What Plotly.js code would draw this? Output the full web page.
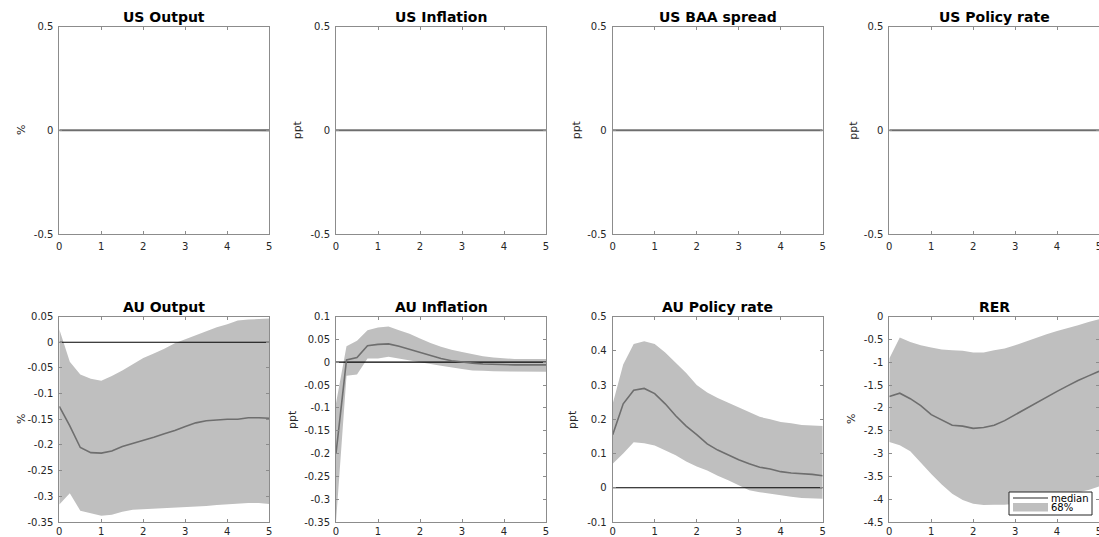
<!DOCTYPE html>
<html>
<head>
<meta charset="utf-8">
<script src="https://cdn.plot.ly/plotly-3.0.1.min.js"></script>
<style>html,body{margin:0;padding:0;background:#fff;}#chart{width:1099px;height:537px;}</style>
</head>
<body>
<div id="chart"></div>
<script>
// Horizon in years (quarterly steps)
const horizon = [0,0.25,0.5,0.75,1,1.25,1.5,1.75,2,2.25,2.5,2.75,3,3.25,3.5,3.75,4,4.25,4.5,4.75,5];

const panelTitles = ["US Output","US Inflation","US BAA spread","US Policy rate","AU Output","AU Inflation","AU Policy rate","RER"];
const unitLabels = ["%","ppt","ppt","ppt","%","ppt","ppt","%"];

// US variables: no response
const usOutputMedian = [0,0,0,0,0,0,0,0,0,0,0,0,0,0,0,0,0,0,0,0,0];
const usOutputUpper  = [0.001,0.001,0.001,0.001,0.001,0.001,0.001,0.001,0.001,0.001,0.002,0.002,0.002,0.002,0.003,0.003,0.003,0.004,0.004,0.004,0.005];
const usOutputLower  = [-0.001,-0.001,-0.001,-0.001,-0.001,-0.001,-0.001,-0.001,-0.001,-0.001,-0.002,-0.002,-0.002,-0.002,-0.003,-0.003,-0.003,-0.004,-0.004,-0.004,-0.005];
const usInflMedian = [0,0,0,0,0,0,0,0,0,0,0,0,0,0,0,0,0,0,0,0,0];
const usInflUpper  = [0,0,0,0,0,0,0,0,0,0,0,0,0,0,0,0,0,0,0,0,0];
const usInflLower  = [0,0,0,0,0,0,0,0,0,0,0,0,0,0,0,0,0,0,0,0,0];
const usBaaMedian = [0,0,0,0,0,0,0,0,0,0,0,0,0,0,0,0,0,0,0,0,0];
const usBaaUpper  = [0,0,0,0,0,0,0,0,0,0,0,0,0,0,0,0,0,0,0,0,0];
const usBaaLower  = [0,0,0,0,0,0,0,0,0,0,0,0,0,0,0,0,0,0,0,0,0];
const usRateMedian = [0,0,0,0,0,0,0,0,0,0,0,0,0,0,0,0,0,0,0,0,0];
const usRateUpper  = [0,0,0,0,0,0,0,0,0,0,0,0,0,0,0,0,0,0,0,0,0];
const usRateLower  = [0,0,0,0,0,0,0,0,0,0,0,0,0,0,0,0,0,0,0,0,0];

// AU Output
const auOutputMedian = [-0.125,-0.163,-0.205,-0.215,-0.216,-0.212,-0.203,-0.197,-0.192,-0.185,-0.178,-0.172,-0.164,-0.157,-0.153,-0.151,-0.150,-0.150,-0.147,-0.147,-0.148];
const auOutputUpper  = [0.025,-0.038,-0.063,-0.071,-0.075,-0.066,-0.055,-0.043,-0.031,-0.022,-0.013,-0.002,0.006,0.013,0.021,0.029,0.035,0.042,0.044,0.045,0.046];
const auOutputLower  = [-0.316,-0.294,-0.328,-0.333,-0.338,-0.336,-0.330,-0.326,-0.325,-0.323,-0.322,-0.321,-0.321,-0.320,-0.319,-0.317,-0.315,-0.314,-0.313,-0.313,-0.315];

// AU Inflation
const auInflMedian = [-0.20,0.005,0.010,0.036,0.039,0.040,0.035,0.028,0.021,0.014,0.008,0.003,0.000,-0.002,-0.004,-0.005,-0.006,-0.006,-0.006,-0.006,-0.006];
const auInflUpper  = [-0.09,0.035,0.047,0.070,0.076,0.078,0.070,0.062,0.052,0.042,0.034,0.027,0.022,0.017,0.013,0.010,0.008,0.007,0.007,0.007,0.007];
const auInflLower  = [-0.35,-0.030,-0.027,0.008,0.008,0.012,0.009,0.005,0.000,-0.004,-0.008,-0.012,-0.015,-0.018,-0.019,-0.020,-0.021,-0.021,-0.021,-0.021,-0.021];

// AU Policy rate
const auRateMedian = [0.155,0.245,0.285,0.290,0.275,0.245,0.210,0.180,0.155,0.128,0.110,0.095,0.082,0.070,0.060,0.055,0.047,0.043,0.042,0.039,0.035];
const auRateUpper  = [0.245,0.360,0.420,0.428,0.420,0.395,0.365,0.335,0.300,0.278,0.262,0.248,0.234,0.220,0.207,0.200,0.192,0.188,0.183,0.182,0.180];
const auRateLower  = [0.070,0.100,0.133,0.130,0.123,0.110,0.095,0.077,0.062,0.050,0.035,0.022,0.008,-0.007,-0.013,-0.017,-0.022,-0.026,-0.030,-0.031,-0.032];

// RER
const rerMedian = [-1.75,-1.68,-1.80,-1.95,-2.15,-2.27,-2.38,-2.40,-2.45,-2.43,-2.38,-2.28,-2.15,-2.03,-1.90,-1.77,-1.64,-1.52,-1.40,-1.30,-1.20];
const rerUpper  = [-0.92,-0.46,-0.56,-0.63,-0.68,-0.72,-0.74,-0.75,-0.79,-0.79,-0.74,-0.70,-0.63,-0.55,-0.46,-0.39,-0.32,-0.26,-0.19,-0.12,-0.06];
const rerLower  = [-2.75,-2.82,-2.95,-3.20,-3.45,-3.68,-3.88,-4.02,-4.10,-4.13,-4.12,-4.12,-4.10,-4.08,-4.05,-4.00,-3.95,-3.90,-3.85,-3.80,-3.72];

// Axis ticks
const xTickVals = [0,1,2,3,4,5];
const xTickText = ["0","1","2","3","4","5"];
const usTickVals = [-0.5,0,0.5];
const usTickText = ["-0.5","0","0.5"];
const auOutTickVals = [-0.35,-0.3,-0.25,-0.2,-0.15,-0.1,-0.05,0,0.05];
const auOutTickText = ["-0.35","-0.3","-0.25","-0.2","-0.15","-0.1","-0.05","0","0.05"];
const auInflTickVals = [-0.35,-0.3,-0.25,-0.2,-0.15,-0.1,-0.05,0,0.05,0.1];
const auInflTickText = ["-0.35","-0.3","-0.25","-0.2","-0.15","-0.1","-0.05","0","0.05","0.1"];
const auRateTickVals = [-0.1,0,0.1,0.2,0.3,0.4,0.5];
const auRateTickText = ["-0.1","0","0.1","0.2","0.3","0.4","0.5"];
const rerTickVals = [-4.5,-4,-3.5,-3,-2.5,-2,-1.5,-1,-0.5,0];
const rerTickText = ["-4.5","-4","-3.5","-3","-2.5","-2","-1.5","-1","-0.5","0"];

const legendLabels = ["median","68%"];

const panels = [
  {med: usOutputMedian, up: usOutputUpper, lo: usOutputLower, range: [-0.5,0.5], tv: usTickVals, tt: usTickText},
  {med: usInflMedian, up: usInflUpper, lo: usInflLower, range: [-0.5,0.5], tv: usTickVals, tt: usTickText},
  {med: usBaaMedian, up: usBaaUpper, lo: usBaaLower, range: [-0.5,0.5], tv: usTickVals, tt: usTickText},
  {med: usRateMedian, up: usRateUpper, lo: usRateLower, range: [-0.5,0.5], tv: usTickVals, tt: usTickText},
  {med: auOutputMedian, up: auOutputUpper, lo: auOutputLower, range: [-0.35,0.05], tv: auOutTickVals, tt: auOutTickText},
  {med: auInflMedian, up: auInflUpper, lo: auInflLower, range: [-0.35,0.1], tv: auInflTickVals, tt: auInflTickText},
  {med: auRateMedian, up: auRateUpper, lo: auRateLower, range: [-0.1,0.5], tv: auRateTickVals, tt: auRateTickText},
  {med: rerMedian, up: rerUpper, lo: rerLower, range: [-4.5,0], tv: rerTickVals, tt: rerTickText}
];

const W = 1099, H = 537;
const colLeft = [59.3, 336, 612.7, 889.3];
const panelW = 210;
const rowTop = [26.7, 316.5];
const rowBot = [234, 522];
const unitX = [[21.7, 297, 576, 853.3], [21.7, 292.7, 572.7, 851.7]];
const xLabelStandoff = [3, 0];

const FONT = "DejaVu Sans, Liberation Sans, Arial, sans-serif";
const traces = [];
const layout = {
  width: W, height: H,
  margin: {l:0, r:0, t:0, b:0},
  paper_bgcolor: "#ffffff", plot_bgcolor: "#ffffff",
  showlegend: false,
  font: {family: FONT, size: 10, color: "#262626"},
  annotations: [], shapes: []
};

panels.forEach((p, i) => {
  const r = Math.floor(i / 4), c = i % 4;
  const sfx = i === 0 ? "" : String(i + 1);
  const xa = "x" + sfx, ya = "y" + sfx;
  const zeros = horizon.map(() => 0);
  traces.push({
    x: horizon.concat(horizon.slice().reverse()),
    y: p.up.concat(p.lo.slice().reverse()),
    type: "scatter", mode: "lines", fill: "toself",
    fillcolor: "#bfbfbf", line: {width: 0, color: "#bfbfbf"},
    xaxis: xa, yaxis: ya, hoverinfo: "skip"
  });
  traces.push({
    x: horizon, y: zeros, type: "scatter", mode: "lines",
    line: {color: "#000000", width: 1.1}, xaxis: xa, yaxis: ya
  });
  traces.push({
    x: horizon, y: p.med, type: "scatter", mode: "lines",
    line: {color: "#6e6e6e", width: 1.6}, xaxis: xa, yaxis: ya
  });
  const x0 = colLeft[c] / W, x1 = Math.min(1, (colLeft[c] + panelW) / W);
  const y0 = 1 - rowBot[r] / H, y1 = 1 - rowTop[r] / H;
  const axCommon = {
    showline: true, mirror: "ticks", linecolor: "#8c8c8c", linewidth: 1,
    ticks: "inside", ticklen: 3, tickwidth: 1, tickcolor: "#8c8c8c",
    showgrid: false, zeroline: false, fixedrange: true,
    tickfont: {family: FONT, size: 10, color: "#262626"}
  };
  layout["xaxis" + sfx] = Object.assign({}, axCommon, {
    domain: [x0, x1], anchor: ya, range: [0, 5],
    tickmode: "array", tickvals: xTickVals, ticktext: xTickText,
    ticklabelstandoff: xLabelStandoff[r], ticklabeloverflow: "allow"
  });
  layout["yaxis" + sfx] = Object.assign({}, axCommon, {
    domain: [y0, y1], anchor: xa, range: p.range,
    tickmode: "array", tickvals: p.tv, ticktext: p.tt,
    ticklabelstandoff: 3
  });
  // panel title
  layout.annotations.push({
    xref: "paper", yref: "paper",
    x: (colLeft[c] + panelW / 2) / W, y: y1,
    xanchor: "center", yanchor: "bottom", yshift: 0,
    text: "<b>" + panelTitles[i] + "</b>", showarrow: false,
    font: {family: FONT, size: 14, color: "#000000"}
  });
  // unit label (y-axis title)
  layout.annotations.push({
    xref: "paper", yref: "paper",
    x: unitX[r][c] / W, y: (y0 + y1) / 2,
    xanchor: "center", yanchor: "middle", textangle: -90,
    text: unitLabels[i], showarrow: false,
    font: {family: FONT, size: 11, color: "#262626"}
  });
});

// Legend (RER panel)
layout.shapes.push({type: "rect", xref: "paper", yref: "paper",
  x0: 1009/W, x1: 1092/W, y0: 1-515/H, y1: 1-492/H,
  line: {color: "#262626", width: 1}, fillcolor: "#ffffff"});
layout.shapes.push({type: "line", xref: "paper", yref: "paper",
  x0: 1013/W, x1: 1048/W, y0: 1-498/H, y1: 1-498/H,
  line: {color: "#6e6e6e", width: 1.6}});
layout.shapes.push({type: "rect", xref: "paper", yref: "paper",
  x0: 1013/W, x1: 1048/W, y0: 1-511.5/H, y1: 1-503/H,
  line: {width: 0}, fillcolor: "#bfbfbf"});
layout.annotations.push({xref: "paper", yref: "paper", x: 1049/W, y: 1-498/H,
  xanchor: "left", yanchor: "middle", text: legendLabels[0], showarrow: false,
  font: {family: FONT, size: 10, color: "#000000"}});
layout.annotations.push({xref: "paper", yref: "paper", x: 1049/W, y: 1-507.5/H,
  xanchor: "left", yanchor: "middle", text: legendLabels[1], showarrow: false,
  font: {family: FONT, size: 10, color: "#000000"}});

Plotly.newPlot("chart", traces, layout, {displayModeBar: false, staticPlot: true});
</script>
</body>
</html>
